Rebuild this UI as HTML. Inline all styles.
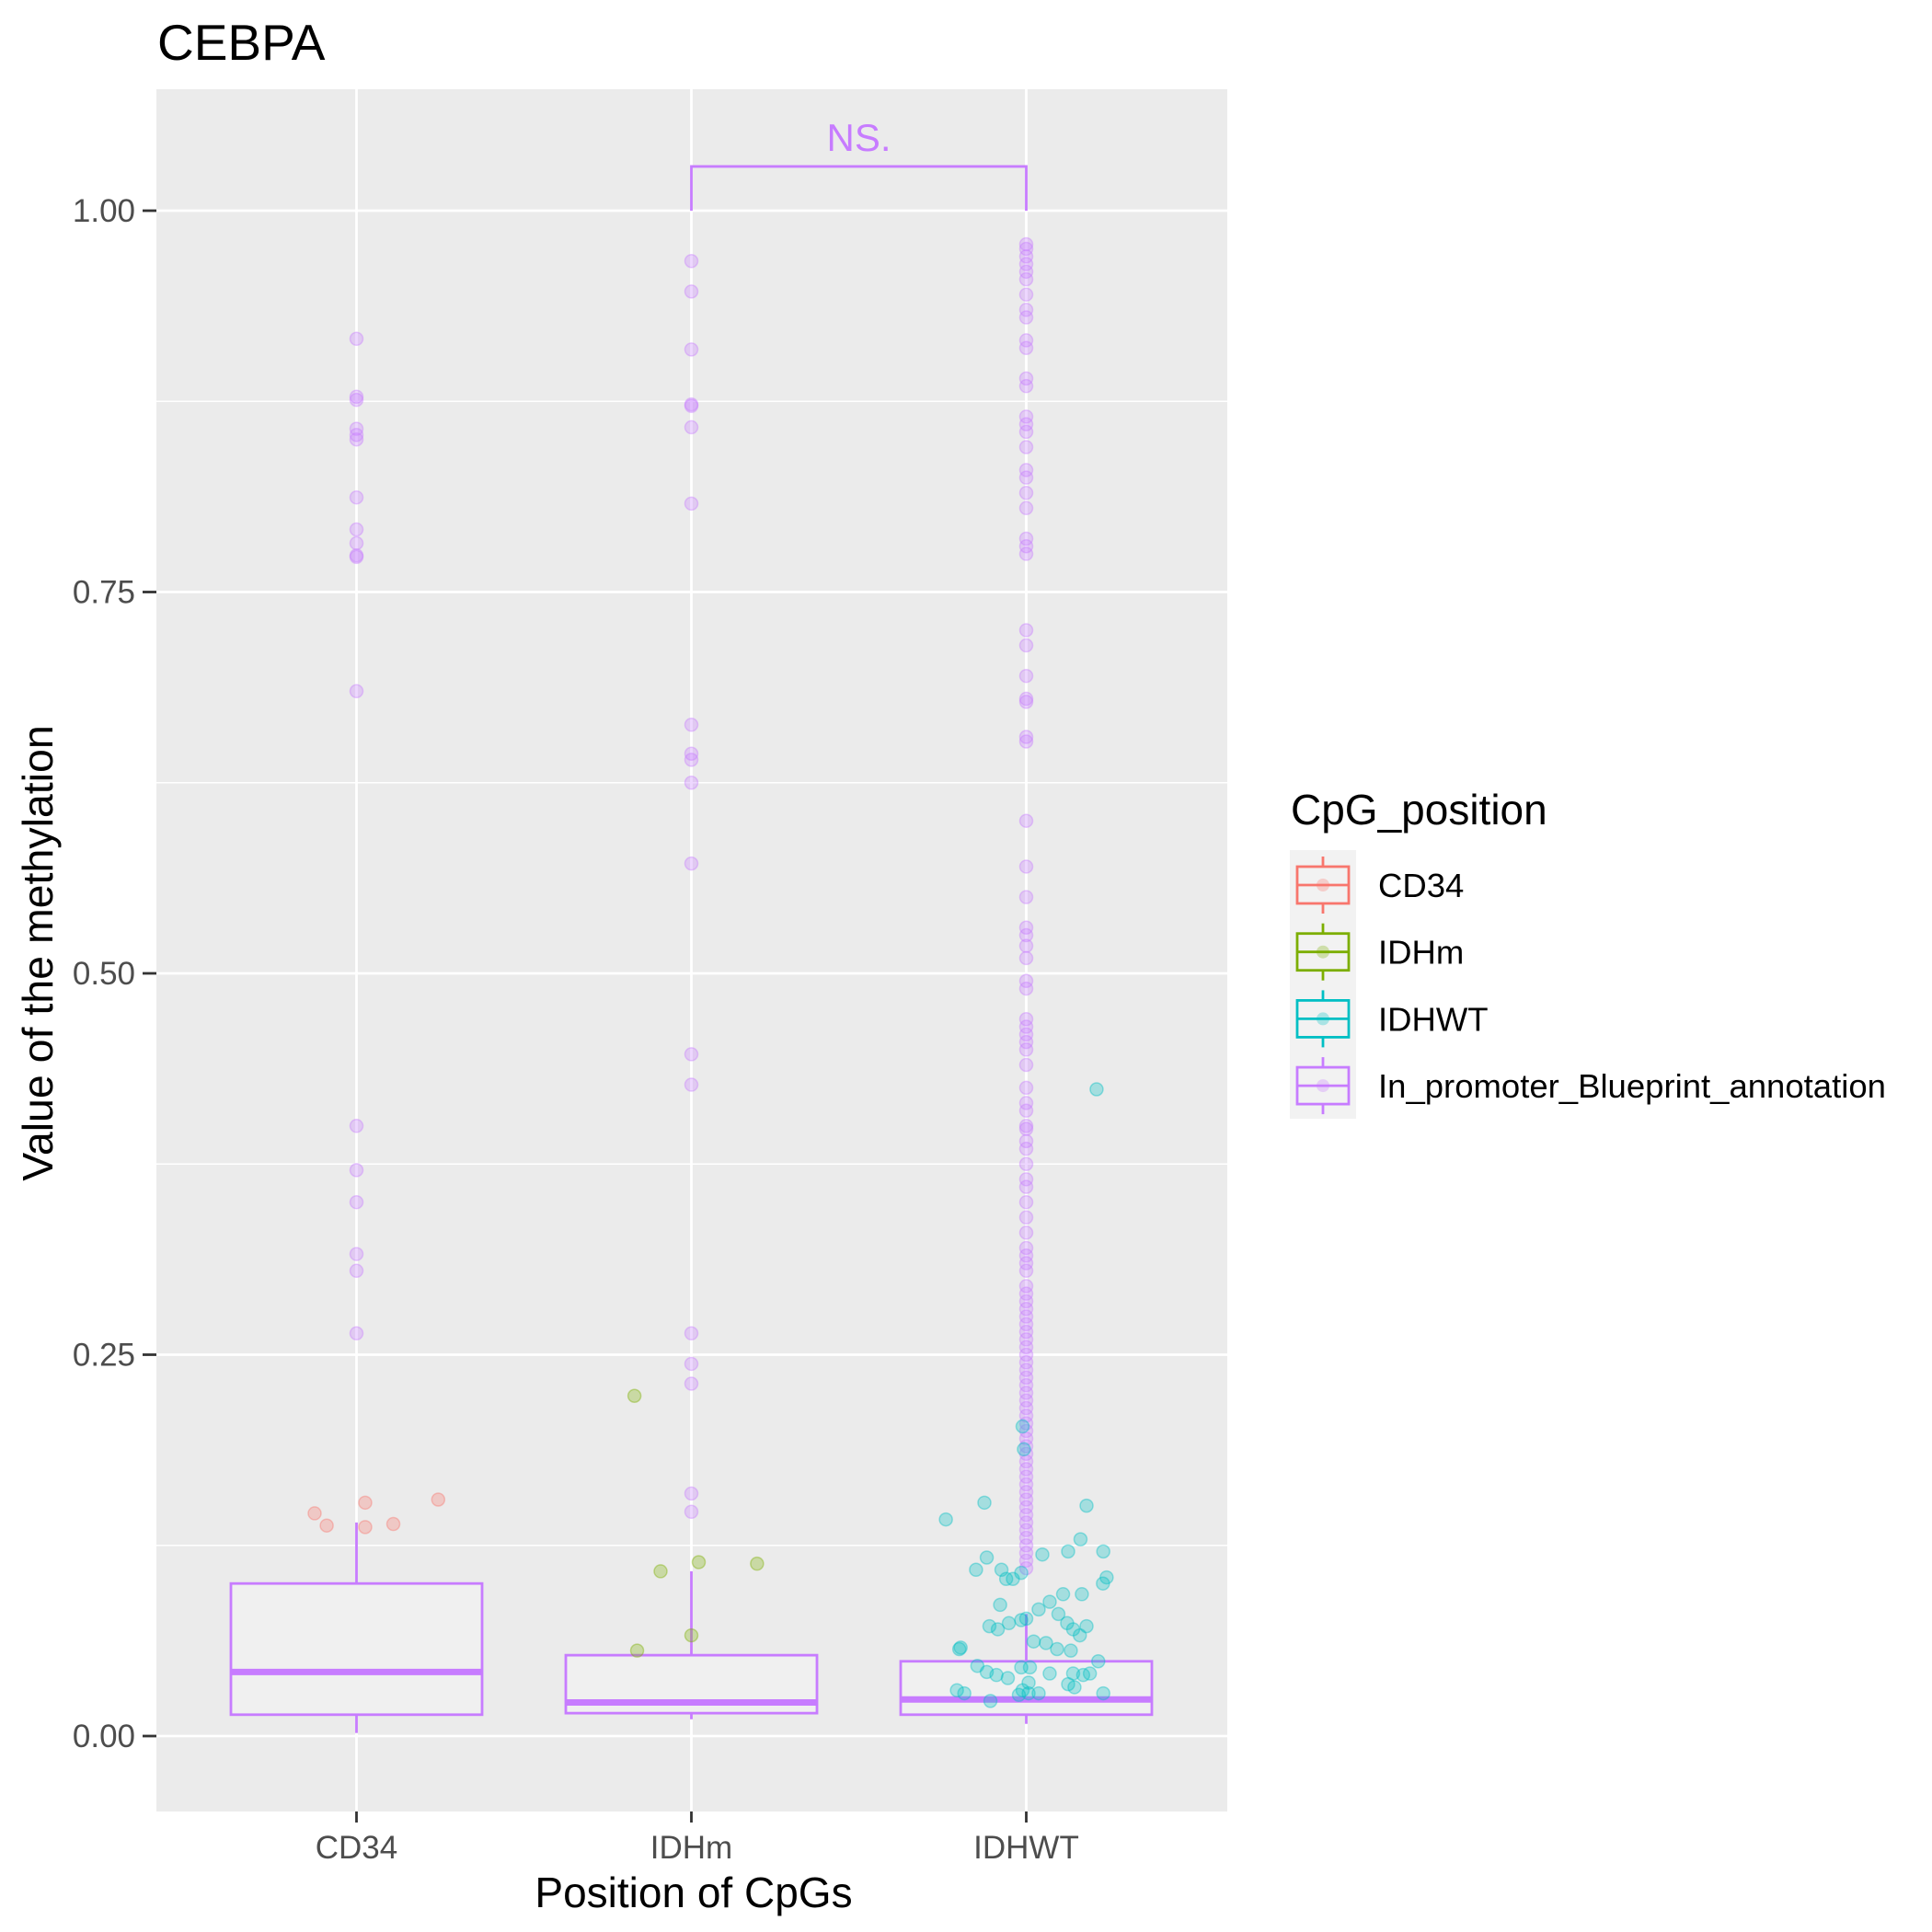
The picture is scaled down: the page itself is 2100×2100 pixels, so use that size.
<!DOCTYPE html>
<html><head><meta charset="utf-8"><style>
html,body{margin:0;padding:0;background:#fff;}
svg{display:block;font-family:"Liberation Sans",Arial,sans-serif;}
</style></head><body>
<svg id="chart" width="2100" height="2100" viewBox="0 0 2100 2100" xmlns="http://www.w3.org/2000/svg">
<text x="171" y="65" font-size="55" fill="#000">CEBPA</text>
<rect x="170" y="97" width="1164" height="1872" fill="#EBEBEB"/>
<g id="grid"></g>
<g id="boxes"></g>
<g id="points"></g>
<g id="axes"></g>
<text transform="translate(57,1036) rotate(-90)" text-anchor="middle" font-size="46.5" fill="#000">Value of the methylation</text>
<text x="754" y="2073" text-anchor="middle" font-size="46" fill="#000">Position of CpGs</text>
<g>
<text x="1403" y="896" font-size="46" fill="#000">CpG_position</text>
<rect x="1402" y="924" width="72" height="292" fill="#F2F2F2"/>
<g id="legend-keys"></g>
</g>
</svg>
<script>
const categories = ["CD34","IDHm","IDHWT"];
const yTicks = [0,0.25,0.5,0.75,1];
const yTickLabels = ["0.00","0.25","0.50","0.75","1.00"];
const boxQ1 = [0.014,0.015,0.014];
const boxMedian = [0.042,0.022,0.024];
const boxQ3 = [0.100,0.053,0.049];
const whiskerLow = [0.002,0.011,0.008];
const whiskerHigh = [0.14,0.108,0.08];
const outliersCD34 = [0.916,0.878,0.876,0.857,0.853,0.850,0.812,0.791,0.782,0.774,0.773,0.685,0.400,0.371,0.350,0.316,0.305,0.264];
const outliersIDHm = [0.967,0.947,0.909,0.873,0.872,0.858,0.808,0.663,0.644,0.640,0.625,0.572,0.447,0.427,0.264,0.244,0.231,0.159,0.147];
const outliersIDHWT = [0.978,0.975,0.97,0.965,0.96,0.955,0.945,0.935,0.93,0.915,0.91,0.89,0.885,0.865,0.86,0.855,0.845,0.83,0.825,0.815,0.805,0.785,0.78,0.775,0.725,0.715,0.695,0.68,0.678,0.655,0.652,0.6,0.57,0.55,0.53,0.525,0.518,0.51,0.495,0.49,0.47,0.465,0.46,0.455,0.45,0.44,0.425,0.415,0.41,0.40,0.398,0.39,0.385,0.375,0.365,0.36,0.35,0.34,0.33,0.32,0.315,0.31,0.305,0.295,0.29,0.285,0.28,0.275,0.27,0.265,0.26,0.255,0.25,0.245,0.24,0.235,0.23,0.225,0.22,0.215,0.21,0.205,0.2,0.195,0.19,0.185,0.18,0.175,0.17,0.165,0.16,0.155,0.15,0.145,0.14,0.135,0.13,0.125,0.12,0.115,0.11];
const cd34Offset = [-0.125,-0.089,0.026,0.026,0.11,0.244];
const cd34Value = [0.146,0.138,0.153,0.137,0.139,0.155];
const idhmOffset = [-0.17,-0.092,0.022,0.196,0,-0.162];
const idhmValue = [0.223,0.108,0.114,0.113,0.066,0.056];
const idhwtOffset = [-0.24,-0.125,-0.15,-0.118,-0.074,-0.06,-0.04,-0.015,-0.011,-0.007,0.048,0.125,0.162,0.18,0.166,0.23,0.24,0.229,0.21,-0.196,-0.2,-0.11,-0.085,-0.078,-0.052,-0.015,0,0.037,0.07,0.096,0.11,0.122,0.14,0.16,0.18,0.022,0.059,0.092,0.133,0.215,-0.146,-0.118,-0.089,-0.055,-0.015,0.011,0.07,0.14,0.17,0.19,0.125,0.144,-0.207,-0.185,-0.107,-0.022,-0.011,0.007,0.037,0.23,0.007];
const idhwtValue = [0.142,0.153,0.109,0.117,0.109,0.103,0.103,0.107,0.203,0.188,0.119,0.121,0.129,0.151,0.093,0.121,0.104,0.1,0.424,0.058,0.057,0.072,0.070,0.086,0.074,0.076,0.077,0.083,0.088,0.080,0.093,0.074,0.070,0.066,0.072,0.062,0.061,0.057,0.056,0.049,0.046,0.042,0.040,0.038,0.045,0.045,0.041,0.041,0.040,0.041,0.034,0.032,0.030,0.028,0.023,0.027,0.030,0.028,0.028,0.028,0.035];
const legendLabels = ["CD34","IDHm","IDHWT","In_promoter_Blueprint_annotation"];
const legendColors = ["#F8766D","#7CAE00","#00BFC4","#C77CFF"];
const sigLabel = "NS.";

const NS="http://www.w3.org/2000/svg";
const PX0=170,PX1=1334,PY0=97,PY1=1969;
const catX0=387.5, catStep=364;
function xScale(i){return catX0+i*catStep;}
function yScale(v){return 1887-v*1658;}
function mk(tag,attrs,parent){const e=document.createElementNS(NS,tag);for(const k in attrs)e.setAttribute(k,attrs[k]);parent.appendChild(e);return e;}
const grid=document.getElementById('grid'),boxes=document.getElementById('boxes'),pts=document.getElementById('points'),axes=document.getElementById('axes');
for(let i=0;i<yTicks.length-1;i++){const v=(yTicks[i]+yTicks[i+1])/2;
 const l=mk('line',{x1:PX0,x2:PX1,y1:yScale(v),y2:yScale(v),stroke:'#fff','stroke-width':1.4},grid);
 
 }
yTicks.forEach((v,i)=>{
 const l=mk('line',{x1:PX0,x2:PX1,y1:yScale(v),y2:yScale(v),stroke:'#fff','stroke-width':2.8},grid);
 
 
 const t=mk('line',{x1:155,x2:PX0,y1:yScale(v),y2:yScale(v),stroke:'#333','stroke-width':2.8},axes);
 
 
 const tx=mk('text',{x:147,y:yScale(v)+12,'text-anchor':'end','font-size':35,fill:'#4D4D4D'},axes);
 tx.textContent=yTickLabels[i];
 
 
});
categories.forEach((c,i)=>{
 const x=xScale(i);
 const l=mk('line',{x1:x,x2:x,y1:PY0,y2:PY1,stroke:'#fff','stroke-width':2.8},grid);
 
 
 const t=mk('line',{x1:x,x2:x,y1:PY1,y2:PY1+12,stroke:'#333','stroke-width':2.8},axes);
 
 
 const tx=mk('text',{x:x,y:2020,'text-anchor':'middle','font-size':35,fill:'#4D4D4D'},axes);
 tx.textContent=c;
 
 
 const hw=catStep*0.375, col='#C77CFF';
 const g=mk('g',{},boxes);
 
 
 mk('line',{x1:x,x2:x,y1:yScale(boxQ3[i]),y2:yScale(whiskerHigh[i]),stroke:col,'stroke-width':2.8},g);
 mk('line',{x1:x,x2:x,y1:yScale(boxQ1[i]),y2:yScale(whiskerLow[i]),stroke:col,'stroke-width':2.8},g);
 mk('rect',{x:x-hw,y:yScale(boxQ3[i]),width:2*hw,height:yScale(boxQ1[i])-yScale(boxQ3[i]),fill:'#F0F0F0',stroke:col,'stroke-width':2.8},g);
 mk('line',{x1:x-hw,x2:x+hw,y1:yScale(boxMedian[i]),y2:yScale(boxMedian[i]),stroke:col,'stroke-width':7},g);
});
function pt(x,y,col,name){const c=mk('circle',{cx:x,cy:y,r:7,fill:col,'fill-opacity':0.3,stroke:col,'stroke-opacity':0.4,'stroke-width':1.5},pts);
 
 }
[outliersCD34,outliersIDHm,outliersIDHWT].forEach((arr,i)=>arr.forEach(v=>pt(xScale(i),yScale(v),'#C77CFF','outlier-point')));
cd34Value.forEach((v,k)=>pt(xScale(0)+cd34Offset[k]*catStep,yScale(v),'#F8766D','cd34-point'));
idhmValue.forEach((v,k)=>pt(xScale(1)+idhmOffset[k]*catStep,yScale(v),'#7CAE00','idhm-point'));
idhwtValue.forEach((v,k)=>pt(xScale(2)+idhwtOffset[k]*catStep,yScale(v),'#00BFC4','idhwt-point'));
const br=mk('path',{d:`M${xScale(1)},${yScale(1.0)} V${yScale(1.029)} H${xScale(2)} V${yScale(1.0)}`,fill:'none',stroke:'#C77CFF','stroke-width':2.8},axes);


const st=mk('text',{x:(xScale(1)+xScale(2))/2,y:yScale(1.029)-17,'text-anchor':'middle','font-size':42,fill:'#C77CFF'},axes);
st.textContent=sigLabel;


const lk=document.getElementById('legend-keys');
legendLabels.forEach((lab,i)=>{
 const cy=962+i*72.7, col=legendColors[i];
 const g=mk('g',{},lk);
 
 
 mk('line',{x1:1438,x2:1438,y1:cy-31,y2:cy+31,stroke:col,'stroke-width':2.8},g);
 mk('rect',{x:1410,y:cy-20,width:56,height:40,fill:'#F2F2F2',stroke:col,'stroke-width':2.8},g);
 mk('line',{x1:1410,x2:1466,y1:cy,y2:cy,stroke:col,'stroke-width':2.8},g);
 mk('circle',{cx:1438,cy:cy,r:7,fill:col,'fill-opacity':0.3},g);
 const t=mk('text',{x:1498,y:cy+13,'font-size':36.5,fill:'#000'},g);
 t.textContent=lab;
});
</script>
</body></html>
